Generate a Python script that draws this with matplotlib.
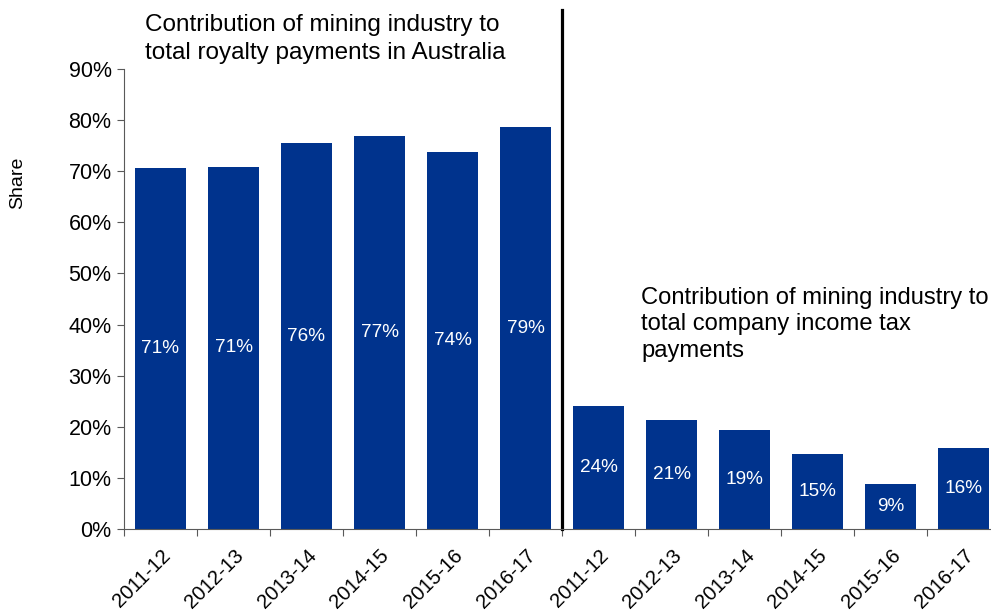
import numpy as np
import matplotlib.pyplot as plt
import matplotlib.transforms as mtransforms
from matplotlib.ticker import FixedLocator, PercentFormatter

plt.rcParams['font.family'] = ['Liberation Sans', 'DejaVu Sans']

years = ['2011-12', '2012-13', '2013-14', '2014-15', '2015-16', '2016-17']
royalty_share = [70.6, 70.9, 75.5, 76.8, 73.8, 78.6]
company_tax_share = [24.1, 21.3, 19.4, 14.6, 8.8, 15.8]

labels = years + years
values = royalty_share + company_tax_share
bar_color = '#00338D'

W, H = 991, 612
fig = plt.figure(figsize=(W / 100, H / 100), dpi=100)
ax = fig.add_axes([124 / W, 83 / H, 876 / W, 460 / H])

x = np.arange(len(values))
ax.bar(x, values, width=0.69, color=bar_color)

# value labels in the middle of each bar
for xi, v in zip(x, values):
    ax.text(xi, v / 2, f'{round(v):.0f}%', ha='center', va='center',
            color='white', fontsize=13.7)

ax.set_xlim(-0.5, len(values) - 0.5)
ax.set_ylim(0, 90)
ax.set_yticks(np.arange(0, 91, 10))
ax.yaxis.set_major_formatter(PercentFormatter(decimals=0))

# category labels sit between the boundary ticks
ax.xaxis.set_major_locator(FixedLocator(np.arange(-0.5, len(values), 1.0)))
ax.xaxis.set_minor_locator(FixedLocator(x))
ax.set_xticklabels([], minor=False)
ax.set_xticklabels(labels, minor=True, rotation=45, ha='right', va='top',
                   rotation_mode='anchor', fontsize=14.6)
shift = mtransforms.ScaledTranslation(1 / 100, 0, fig.dpi_scale_trans)
for lbl in ax.get_xticklabels(minor=True):
    lbl.set_transform(lbl.get_transform() + shift)
ax.tick_params(axis='x', which='minor', length=0, pad=12)
ax.tick_params(axis='x', which='major', length=5, color='#595959')
ax.tick_params(axis='y', length=5, color='#595959', labelsize=15.5, pad=4)

for side in ['top', 'right']:
    ax.spines[side].set_visible(False)
for side in ['left', 'bottom']:
    ax.spines[side].set_color('#595959')

fig.text(18 / W, 1 - 183 / H, 'Share', rotation=90, ha='center',
         va='center', fontsize=14)

# divider between the two series
ax.plot([5.5, 5.5], [0, 101.5], color='black', lw=2.3, clip_on=False)

fig.text(145 / W, 1 - 14 / H,
         'Contribution of mining industry to\ntotal royalty payments in Australia',
         fontsize=17.5, va='top', ha='left', linespacing=1.35)
fig.text(641 / W, 1 - 287 / H,
         'Contribution of mining industry to\ntotal company income tax\npayments',
         fontsize=17.1, va='top', ha='left', linespacing=1.25)

fig.savefig('out.png', dpi=100)
